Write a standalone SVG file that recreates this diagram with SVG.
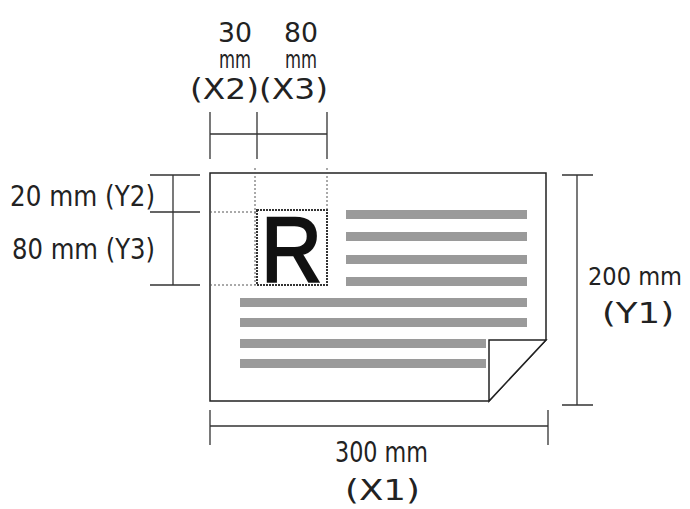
<svg xmlns="http://www.w3.org/2000/svg" width="690" height="509" viewBox="0 0 690 509">
<style>
.t{font-family:"DejaVu Sans","Liberation Sans",sans-serif;fill:#222}
.d{stroke:#333;stroke-width:1.3;fill:none}
.dot{stroke:#555;stroke-width:1;stroke-dasharray:2 2;fill:none}
.bar{fill:#9a9a9a}
</style>
<rect width="690" height="509" fill="#fff"/>
<g id="paper">
<path d="M210 173H546V340L489 401H210Z" fill="#fff" stroke="#222" stroke-width="1.5"/>
<path d="M489 401V340H546Z" fill="#fff" stroke="#222" stroke-width="1.5"/>
<rect class="bar" x="346" y="210" width="181" height="9"/>
<rect class="bar" x="346" y="232" width="181" height="9"/>
<rect class="bar" x="346" y="255" width="181" height="9"/>
<rect class="bar" x="346" y="277" width="181" height="9"/>
<rect class="bar" x="240" y="298" width="287" height="9"/>
<rect class="bar" x="240" y="318" width="287" height="9"/>
<rect class="bar" x="240" y="339" width="246" height="9"/>
<rect class="bar" x="240" y="359" width="246" height="9"/>
<rect x="257" y="210" width="70" height="75" fill="none" stroke="#333" stroke-width="2" stroke-dasharray="2 1"/>
<text x="261" y="282" font-family="Liberation Sans,Arial,sans-serif" font-size="92" fill="#111" stroke="#111" stroke-width="2.5" textLength="61" lengthAdjust="spacingAndGlyphs">R</text>
</g>
<g id="connectors">
<path class="dot" d="M255 168V285M327 168V210M210 212H257M210 285H257"/>
<path class="d" d="M210 112V159M257 112V159M327 112V159M210 134H327"/>
<path class="d" d="M150 175H200M150 212H200M150 285H200M173 175V285"/>
<path class="d" d="M562 175H593M562 405H593M577 175V405"/>
<path class="d" d="M210 410V445M548 410V445M210 426H548"/>
</g>
<g id="labels">
<text class="t" x="218" y="42" font-size="26" textLength="34" lengthAdjust="spacingAndGlyphs">30</text>
<text class="t" x="219" y="68" font-size="24" textLength="32" lengthAdjust="spacingAndGlyphs">mm</text>
<text class="t" x="284" y="42" font-size="26" textLength="34" lengthAdjust="spacingAndGlyphs">80</text>
<text class="t" x="285" y="68" font-size="24" textLength="32" lengthAdjust="spacingAndGlyphs">mm</text>
<text class="t" x="190" y="99" font-size="28" textLength="138" lengthAdjust="spacingAndGlyphs">(X2)(X3)</text>
<text class="t" x="10" y="206" font-size="28" textLength="145" lengthAdjust="spacingAndGlyphs">20 mm (Y2)</text>
<text class="t" x="12" y="259" font-size="28" textLength="143" lengthAdjust="spacingAndGlyphs">80 mm (Y3)</text>
<text class="t" x="588" y="285" font-size="24" textLength="94" lengthAdjust="spacingAndGlyphs">200 mm</text>
<text class="t" x="602" y="323" font-size="28" textLength="72" lengthAdjust="spacingAndGlyphs">(Y1)</text>
<text class="t" x="335" y="462" font-size="28" textLength="93" lengthAdjust="spacingAndGlyphs">300 mm</text>
<text class="t" x="345" y="500" font-size="28" textLength="75" lengthAdjust="spacingAndGlyphs">(X1)</text>
</g>
</svg>
